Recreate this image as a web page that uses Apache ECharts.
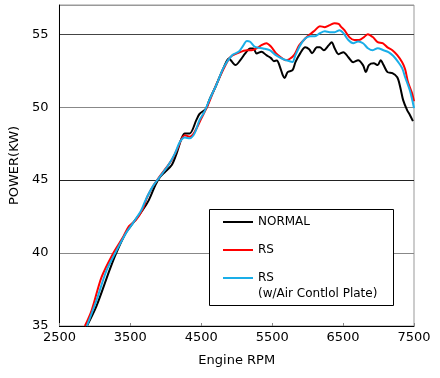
<!DOCTYPE html>
<html>
<head>
<meta charset="utf-8">
<script src="https://cdn.jsdelivr.net/npm/echarts@6/dist/echarts.min.js"></script>
<style>html,body{margin:0;padding:0;background:#fff;}#c{width:440px;height:378px;}</style>
</head>
<body>
<div id="c"></div>
<script>
var seriesNames = ['NORMAL', 'RS', 'RS (w/Air Contlol Plate)'];
var xTicks = [2500, 3500, 4500, 5500, 6500, 7500];
var yTicks = [35, 40, 45, 50, 55];

var rpmNormal = [2887, 3025, 3204, 3301, 3439, 3536, 3674, 3761, 3853, 3922, 3991, 4084, 4153, 4222, 4268, 4337, 4430, 4475, 4567, 4613, 4706, 4820, 4889, 4935, 4982, 5051, 5120, 5189, 5234, 5280, 5349, 5418, 5483, 5525, 5566, 5607, 5649, 5676, 5718, 5787, 5828, 5897, 5966, 6021, 6062, 6131, 6173, 6228, 6298, 6339, 6381, 6436, 6505, 6574, 6643, 6712, 6781, 6822, 6864, 6933, 6988, 7030, 7071, 7126, 7195, 7264, 7306, 7347, 7403, 7444, 7485];
var powerNormal = [35.0, 36.4, 38.8, 40.0, 41.4, 42.05, 42.95, 43.63, 44.66, 45.23, 45.57, 46.03, 46.83, 47.86, 48.2, 48.2, 49.11, 49.53, 49.9, 50.48, 51.45, 52.76, 53.34, 53.1, 52.88, 53.22, 53.68, 54.02, 54.02, 53.68, 53.79, 53.56, 53.36, 53.15, 53.2, 52.8, 52.2, 52.0, 52.4, 52.53, 53.08, 53.7, 54.1, 53.97, 53.7, 54.1, 54.1, 53.9, 54.25, 54.45, 54.04, 53.63, 53.77, 53.42, 53.08, 53.22, 52.88, 52.4, 52.88, 53.0, 52.88, 53.22, 52.88, 52.4, 52.33, 52.05, 51.37, 50.48, 49.8, 49.45, 49.04];

var rpmRS = [2859, 2956, 3094, 3260, 3398, 3481, 3577, 3674, 3739, 3830, 3899, 3991, 4084, 4153, 4268, 4337, 4406, 4498, 4590, 4682, 4820, 4912, 5004, 5142, 5211, 5280, 5349, 5418, 5487, 5552, 5621, 5690, 5745, 5814, 5883, 5966, 6035, 6104, 6173, 6243, 6312, 6381, 6436, 6477, 6519, 6588, 6657, 6726, 6795, 6850, 6919, 6988, 7057, 7126, 7195, 7264, 7333, 7375, 7416, 7472, 7500];
var powerRS = [35.0, 36.1, 38.35, 40.0, 41.1, 41.85, 42.26, 43.0, 43.86, 44.66, 45.15, 45.75, 46.37, 47.05, 48.08, 47.97, 48.3, 49.2, 50.1, 51.2, 52.67, 53.45, 53.68, 53.9, 53.9, 54.02, 54.25, 54.38, 54.13, 53.7, 53.42, 53.22, 53.3, 53.6, 54.25, 54.7, 55.0, 55.27, 55.55, 55.48, 55.62, 55.75, 55.7, 55.48, 55.27, 54.8, 54.6, 54.6, 54.8, 55.0, 54.8, 54.45, 54.38, 54.1, 53.9, 53.56, 53.08, 52.6, 51.7, 50.96, 50.4];

var rpmPlate = [2887, 3025, 3163, 3287, 3439, 3536, 3650, 3715, 3808, 3899, 3968, 4037, 4130, 4199, 4268, 4337, 4406, 4475, 4544, 4613, 4706, 4820, 4935, 5027, 5096, 5142, 5189, 5258, 5373, 5465, 5552, 5649, 5745, 5787, 5828, 5897, 5966, 6035, 6104, 6173, 6243, 6312, 6381, 6450, 6505, 6574, 6643, 6712, 6781, 6850, 6919, 6988, 7071, 7140, 7209, 7278, 7333, 7375, 7444, 7500];
var powerPlate = [35.0, 36.8, 38.8, 40.0, 41.37, 42.05, 42.9, 43.63, 44.5, 45.12, 45.57, 46.03, 46.83, 47.62, 47.92, 47.86, 48.2, 49.11, 49.68, 50.48, 51.45, 52.76, 53.56, 53.79, 54.25, 54.54, 54.48, 54.13, 54.02, 53.9, 53.56, 53.3, 53.15, 53.1, 53.56, 54.25, 54.7, 54.86, 54.86, 55.07, 55.2, 55.14, 55.14, 55.27, 55.07, 54.6, 54.38, 54.5, 54.38, 54.04, 53.9, 54.04, 53.9, 53.77, 53.5, 53.08, 52.67, 52.05, 51.1, 49.93];

function pairs(xs, ys) { return xs.map(function (x, i) { return [x, ys[i]]; }); }

var FONT = 'DejaVu Sans';
var chart = echarts.init(document.getElementById('c'), null, { renderer: 'canvas' });
chart.setOption({
  animation: false,
  backgroundColor: '#fff',
  textStyle: { fontFamily: FONT },
  grid: { left: 52, right: 26, top: 5, bottom: 52, show: true, borderColor: '#999', borderWidth: 1, backgroundColor: 'transparent' },
  xAxis: {
    type: 'value', min: xTicks[0], max: xTicks[xTicks.length - 1], interval: 1000,
    name: 'Engine RPM', nameLocation: 'middle', nameGap: 28,
    nameTextStyle: { color: '#000', fontSize: 13, fontFamily: FONT },
    axisLine: { show: true, lineStyle: { color: '#000', width: 1 } },
    axisTick: { show: true, inside: true, length: 3, lineStyle: { color: '#888' } },
    axisLabel: { color: '#000', fontSize: 13, fontFamily: FONT, margin: 5, formatter: function (v) { return String(v); } },
    splitLine: { show: false }
  },
  yAxis: {
    type: 'value', min: yTicks[0], max: 57, interval: 5,
    name: 'POWER(KW)', nameLocation: 'middle', nameGap: 35, nameRotate: 90,
    nameTextStyle: { color: '#000', fontSize: 13, fontFamily: FONT },
    axisLine: { show: true, lineStyle: { color: '#000', width: 1 } },
    axisTick: { show: false },
    axisLabel: { color: '#000', fontSize: 13, fontFamily: FONT, margin: 11, showMaxLabel: false, formatter: function (v) { return String(v); } },
    splitLine: { show: true, lineStyle: { color: ['#000', '#888', '#222', '#888', '#444', '#999'], width: 1 } }
  },
  legend: {
    orient: 'vertical', left: 223, top: 215, padding: 0, itemGap: 14,
    itemWidth: 30, itemHeight: 2, icon: 'rect', z: 10,
    data: seriesNames,
    formatter: function (n) { return n === seriesNames[2] ? 'RS' : n; },
    textStyle: { color: '#000', fontSize: 12, lineHeight: 14, fontFamily: FONT }
  },
  graphic: [
    { type: 'rect', z: 3, shape: { x: 209.5, y: 209.5, width: 184, height: 96 }, style: { fill: '#fff', stroke: '#000', lineWidth: 1 } },
    { type: 'text', z: 10, x: 258, y: 294, style: { text: '(w/Air Contlol Plate)', fill: '#000', font: '12px "DejaVu Sans"', verticalAlign: 'middle', align: 'left' } }
  ],
  series: [
    { name: seriesNames[0], type: 'line', data: pairs(rpmNormal, powerNormal), smooth: 0.3, symbol: 'none', lineStyle: { color: '#000', width: 2 }, itemStyle: { color: '#000' }, z: 2 },
    { name: seriesNames[1], type: 'line', data: pairs(rpmRS, powerRS), smooth: 0.3, symbol: 'none', lineStyle: { color: '#ff0000', width: 2 }, itemStyle: { color: '#ff0000' }, z: 2 },
    { name: seriesNames[2], type: 'line', data: pairs(rpmPlate, powerPlate), smooth: 0.3, symbol: 'none', lineStyle: { color: '#1aaee8', width: 2 }, itemStyle: { color: '#1aaee8' }, z: 2 }
  ]
});
</script>
</body>
</html>
